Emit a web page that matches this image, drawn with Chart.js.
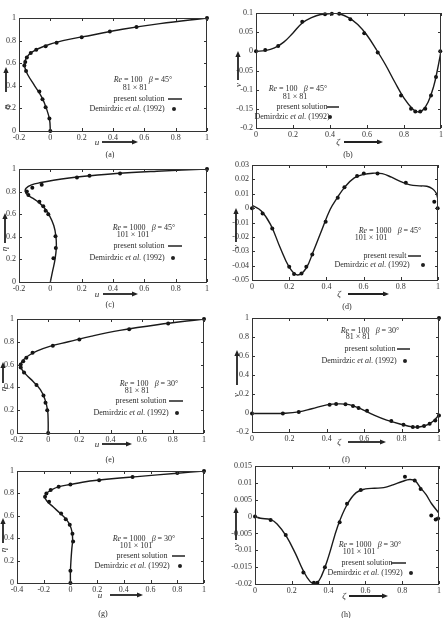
<!DOCTYPE html>
<html lang="en">
<head>
<meta charset="UTF-8">
<title>Skewed cavity: u and v profiles</title>
<script src="https://cdn.jsdelivr.net/npm/chart.js"></script>
<style>
  body { margin: 0; background: #fff; }
  #page { position: relative; width: 443px; height: 618px; overflow: hidden;
          font-family: 'Liberation Serif', 'Times New Roman', serif; color: #2b2b2b; }
  canvas { position: absolute; }
  .txt { position: absolute; font-size: 8px; line-height: 1; white-space: nowrap;
         transform: translate(-50%, -50%); }
  .lab { font-size: 9px; font-style: italic; }
</style>
</head>
<body>
<div id="page"></div>
<script>
// ---------- data ----------
// ticks
const uTicks = [-0.2, 0, 0.2, 0.4, 0.6, 0.8, 1];
const uTicksWide = [-0.4, -0.2, 0, 0.2, 0.4, 0.6, 0.8, 1];
const etaTicks = [0, 0.2, 0.4, 0.6, 0.8, 1];
const zetaTicks = [0, 0.2, 0.4, 0.6, 0.8, 1];
const vTicksB = [-0.2, -0.15, -0.1, -0.05, 0, 0.05, 0.1];
const vTicksD = [-0.05, -0.04, -0.03, -0.02, -0.01, 0, 0.01, 0.02, 0.03];
const vTicksF = [-0.2, 0, 0.2, 0.4, 0.6, 0.8, 1];
const vTicksH = [-0.02, -0.015, -0.01, -0.005, 0, 0.005, 0.01, 0.015];

// (a) Re=100, beta=45, u(eta)
const aLineEta = [0, 0.1, 0.2, 0.3, 0.4, 0.5, 0.56, 0.6, 0.65, 0.7, 0.75, 0.8, 0.85, 0.9, 0.95, 1];
const aLineU = [0, -0.005, -0.025, -0.055, -0.1, -0.145, -0.162, -0.165, -0.152, -0.115, -0.04, 0.08, 0.27, 0.46, 0.7, 1];
const aDotEta = [0, 0.11, 0.21, 0.28, 0.35, 0.53, 0.58, 0.61, 0.65, 0.69, 0.72, 0.75, 0.78, 0.83, 0.88, 0.92, 1];
const aDotU = [0, -0.006, -0.03, -0.05, -0.07, -0.155, -0.166, -0.16, -0.15, -0.125, -0.09, -0.03, 0.04, 0.2, 0.38, 0.55, 1];

// (b) Re=100, beta=45, v(zeta)
const bLineZeta = [0, 0.05, 0.1, 0.15, 0.2, 0.25, 0.3, 0.35, 0.42, 0.45, 0.5, 0.55, 0.6, 0.65, 0.7, 0.75, 0.8, 0.85, 0.875, 0.9, 0.93, 0.96, 0.98, 1];
const bLineV = [0, 0.002, 0.009, 0.024, 0.048, 0.074, 0.088, 0.096, 0.099, 0.098, 0.088, 0.07, 0.042, 0.005, -0.035, -0.08, -0.122, -0.152, -0.158, -0.154, -0.133, -0.092, -0.05, 0];
const bDotZeta = [0, 0.05, 0.12, 0.25, 0.373, 0.41, 0.45, 0.51, 0.585, 0.658, 0.784, 0.838, 0.861, 0.888, 0.915, 0.946, 0.973, 0.996];
const bDotV = [0, 0.0035, 0.014, 0.077, 0.0965, 0.098, 0.098, 0.084, 0.047, -0.003, -0.115, -0.15, -0.157, -0.157, -0.15, -0.115, -0.067, 0];

// (c) Re=1000, beta=45, u(eta)
const cLineEta = [0, 0.1, 0.2, 0.3, 0.4, 0.5, 0.6, 0.65, 0.7, 0.74, 0.77, 0.8, 0.83, 0.86, 0.88, 0.9, 0.92, 0.94, 0.96, 0.98, 1];
const cLineU = [0, 0.015, 0.03, 0.038, 0.036, 0.022, -0.01, -0.035, -0.07, -0.11, -0.145, -0.16, -0.155, -0.12, -0.06, 0.02, 0.12, 0.25, 0.42, 0.68, 1];
const cDotEta = [0.21, 0.3, 0.405, 0.6, 0.63, 0.67, 0.71, 0.77, 0.8, 0.834, 0.86, 0.925, 0.94, 0.96, 1];
const cDotU = [0.02, 0.035, 0.033, -0.013, -0.03, -0.045, -0.07, -0.14, -0.15, -0.115, -0.055, 0.17, 0.25, 0.445, 1];

// (d) Re=1000, beta=45, v(zeta)
const dLineZeta = [0, 0.05, 0.1, 0.15, 0.2, 0.245, 0.29, 0.33, 0.37, 0.42, 0.46, 0.5, 0.55, 0.6, 0.65, 0.7, 0.75, 0.8, 0.85, 0.9, 0.94, 0.97, 0.99, 1];
const dLineV = [0.002, -0.002, -0.0115, -0.027, -0.041, -0.0465, -0.042, -0.03, -0.017, -0.001, 0.0075, 0.0148, 0.021, 0.0235, 0.0243, 0.024, 0.0215, 0.0185, 0.0162, 0.0155, 0.0152, 0.0135, 0.0105, 0.006];
const dDotZeta = [0, 0.057, 0.109, 0.2, 0.226, 0.266, 0.292, 0.324, 0.396, 0.461, 0.497, 0.565, 0.601, 0.675, 0.827, 0.98, 0.998];
const dDotV = [0, -0.0037, -0.0141, -0.0408, -0.0459, -0.0455, -0.0408, -0.0322, -0.0095, 0.0072, 0.0146, 0.0223, 0.0241, 0.0241, 0.0176, 0.0044, 0];

// (e) Re=100, beta=30, u(eta)
const eLineEta = [0, 0.1, 0.2, 0.3, 0.38, 0.45, 0.51, 0.56, 0.6, 0.64, 0.68, 0.72, 0.76, 0.8, 0.85, 0.9, 0.95, 1];
const eLineU = [0, 0, -0.004, -0.022, -0.05, -0.095, -0.14, -0.17, -0.176, -0.16, -0.125, -0.07, 0.01, 0.13, 0.28, 0.46, 0.7, 1];
const eDotEta = [0, 0.2, 0.265, 0.33, 0.42, 0.53, 0.574, 0.6, 0.63, 0.66, 0.705, 0.765, 0.82, 0.91, 0.96, 1];
const eDotU = [0, -0.006, -0.017, -0.03, -0.075, -0.155, -0.176, -0.176, -0.16, -0.14, -0.1, 0.03, 0.2, 0.52, 0.77, 1];

// (f) Re=100, beta=30, v(zeta)
const fLineZeta = [0, 0.1, 0.17, 0.25, 0.32, 0.4, 0.46, 0.52, 0.58, 0.65, 0.72, 0.8, 0.86, 0.9, 0.94, 0.97, 1];
const fLineV = [-0.005, -0.005, -0.003, 0.012, 0.045, 0.085, 0.096, 0.088, 0.045, -0.02, -0.075, -0.12, -0.146, -0.145, -0.122, -0.085, -0.02];
const fDotZeta = [0, 0.165, 0.25, 0.415, 0.45, 0.5, 0.54, 0.57, 0.615, 0.745, 0.81, 0.86, 0.885, 0.92, 0.95, 0.98, 1, 1];
const fDotV = [-0.005, -0.005, 0.01, 0.088, 0.095, 0.092, 0.075, 0.053, 0.025, -0.085, -0.124, -0.148, -0.148, -0.138, -0.113, -0.078, -0.025, 1];

// (g) Re=1000, beta=30, u(eta)
const gLineEta = [0, 0.1, 0.2, 0.3, 0.38, 0.45, 0.52, 0.57, 0.62, 0.68, 0.73, 0.77, 0.8, 0.83, 0.86, 0.88, 0.9, 0.917, 0.95, 0.98, 1];
const gLineU = [0, 0, 0.004, 0.01, 0.016, 0.013, -0.005, -0.033, -0.075, -0.13, -0.175, -0.193, -0.18, -0.145, -0.085, 0, 0.09, 0.2, 0.5, 0.8, 1];
const gDotEta = [0, 0.11, 0.37, 0.44, 0.52, 0.57, 0.62, 0.725, 0.77, 0.8, 0.83, 0.86, 0.88, 0.917, 0.947, 0.982, 1];
const gDotU = [0, 0, 0.02, 0.015, -0.005, -0.035, -0.07, -0.16, -0.19, -0.18, -0.148, -0.088, 0, 0.215, 0.465, 0.8, 1];

// (h) Re=1000, beta=30, v(zeta)
const hLineZeta = [0, 0.03, 0.085, 0.12, 0.17, 0.22, 0.26, 0.3, 0.33, 0.36, 0.4, 0.45, 0.5, 0.55, 0.6, 0.65, 0.7, 0.75, 0.8, 0.84, 0.87, 0.9, 0.93, 0.96, 1];
const hLineV = [0, -0.0005, -0.0009, -0.0022, -0.0058, -0.011, -0.0158, -0.0193, -0.02, -0.0178, -0.0118, -0.0028, 0.0035, 0.0071, 0.0082, 0.0084, 0.0086, 0.0094, 0.0104, 0.011, 0.0106, 0.0085, 0.0065, 0.0038, 0.001];
const hDotZeta = [0, 0.085, 0.167, 0.263, 0.32, 0.339, 0.38, 0.46, 0.5, 0.575, 0.815, 0.868, 0.9, 0.958, 0.982, 0.995];
const hDotV = [0, -0.001, -0.0055, -0.0166, -0.0196, -0.0196, -0.015, -0.0017, 0.0038, 0.0079, 0.0118, 0.0107, 0.0082, 0.0003, -0.0009, -0.0006];

// ---------- layout of the 8 panels (page pixels) ----------
const panels = [
  { id: 'a', box: [19, 207, 18, 131], xs: [-0.2, 1], ys: [0, 1], xt: uTicks, yt: etaTicks,
    line: [aLineU, aLineEta], dots: [aDotU, aDotEta], xl: 'u', yl: 'η',
    yArrow: [6, 92, 67], yLab: [6, 107], xArrow: [142, 102, 138], xLab: [97, 142],
    re: '<i>Re</i> = 100&nbsp;&nbsp; <i>β</i> = 45°', reAt: [143, 80], grid: '81 × 81', gridAt: [135, 88],
    ps: 'present solution', psAt: [139, 99], legLine: [168, 182, 99], dmAt: [127, 109], legDot: [174, 109], cap: [110, 155] },
  { id: 'b', box: [256, 441, 13, 128], xs: [0, 1], ys: [-0.2, 0.1], xt: zetaTicks, yt: vTicksB,
    line: [bLineZeta, bLineV], dots: [bDotZeta, bDotV], xl: 'ζ', yl: 'v',
    yArrow: [238, 80, 51], yLab: [238, 85], xArrow: [142, 344, 383], xLab: [338, 142],
    re: '<i>Re</i> = 100&nbsp;&nbsp; <i>β</i> = 45°', reAt: [298, 89], grid: '81 × 81', gridAt: [295, 97],
    ps: 'present solution', psAt: [302, 107], legLine: [327, 339, 107], dmAt: [292, 117], legDot: [330, 117], cap: [348, 155] },
  { id: 'c', box: [19, 207, 169, 282], xs: [-0.2, 1], ys: [0, 1], xt: uTicks, yt: etaTicks,
    line: [cLineU, cLineEta], dots: [cDotU, cDotEta], xl: 'u', yl: 'η',
    yArrow: [5, 243, 213], yLab: [4, 249], xArrow: [294, 103, 138], xLab: [97, 294],
    re: '<i>Re</i> = 1000&nbsp;&nbsp; <i>β</i> = 45°', reAt: [144, 228], grid: '101 × 101', gridAt: [133, 235],
    ps: 'present solution', psAt: [139, 246], legLine: [168, 182, 246], dmAt: [127, 258], legDot: [173, 258], cap: [110, 305] },
  { id: 'd', box: [252, 438, 165, 280], xs: [0, 1], ys: [-0.05, 0.03], xt: zetaTicks, yt: vTicksD,
    line: [dLineZeta, dLineV], dots: [dDotZeta, dDotV], xl: 'ζ', yl: 'v',
    yArrow: [236, 242, 208], yLab: [236, 247], xArrow: [294, 348, 389], xLab: [339, 294],
    re: '<i>Re</i> = 1000&nbsp;&nbsp; <i>β</i> = 45°', reAt: [390, 231], grid: '101 × 101', gridAt: [371, 238],
    ps: 'present result', psAt: [385, 256], legLine: [408, 421, 256], dmAt: [372, 265], legDot: [423, 265], cap: [347, 307] },
  { id: 'e', box: [17, 204, 319, 433], xs: [-0.2, 1], ys: [0, 1], xt: uTicks, yt: etaTicks,
    line: [eLineU, eLineEta], dots: [eDotU, eDotEta], xl: 'u', yl: 'η',
    yArrow: [3, 383, 362], yLab: [3, 389], xArrow: [444, 102, 132], xLab: [97, 444],
    re: '<i>Re</i> = 100&nbsp;&nbsp; <i>β</i> = 30°', reAt: [149, 384], grid: '81 × 81', gridAt: [137, 391],
    ps: 'present solution', psAt: [141, 401], legLine: [169, 183, 401], dmAt: [131, 413], legDot: [177, 413], cap: [110, 460] },
  { id: 'f', box: [252, 439, 318, 432], xs: [0, 1], ys: [-0.2, 1], xt: zetaTicks, yt: vTicksF,
    line: [fLineZeta, fLineV], dots: [fDotZeta, fDotV], xl: 'ζ', yl: 'v',
    yArrow: [237, 385, 350], yLab: [236, 395], xArrow: [442, 348, 386], xLab: [339, 442],
    re: '<i>Re</i> = 100&nbsp;&nbsp; <i>β</i> = 30°', reAt: [370, 331], grid: '81 × 81', gridAt: [358, 337],
    ps: 'present solution', psAt: [370, 349], legLine: [397, 410, 349], dmAt: [359, 361], legDot: [405, 361], cap: [346, 460] },
  { id: 'g', box: [17, 204, 471, 583], xs: [-0.4, 1], ys: [0, 1], xt: uTicksWide, yt: etaTicks,
    line: [gLineU, gLineEta], dots: [gDotU, gDotEta], xl: 'u', yl: 'η',
    yArrow: [3, 543, 518], yLab: [3, 550], xArrow: [595, 110, 143], xLab: [100, 595],
    re: '<i>Re</i> = 1000&nbsp;&nbsp; <i>β</i> = 30°', reAt: [144, 539], grid: '101 × 101', gridAt: [136, 546],
    ps: 'present solution', psAt: [142, 556], legLine: [172, 185, 556], dmAt: [132, 566], legDot: [180, 566], cap: [103, 614] },
  { id: 'h', box: [255, 439, 466, 584], xs: [0, 1], ys: [-0.02, 0.015], xt: zetaTicks, yt: vTicksH,
    line: [hLineZeta, hLineV], dots: [hDotZeta, hDotV], xl: 'ζ', yl: 'v',
    yArrow: [236, 540, 507], yLab: [236, 545], xArrow: [596, 349, 388], xLab: [344, 596],
    re: '<i>Re</i> = 1000&nbsp;&nbsp; <i>β</i> = 30°', reAt: [370, 545], grid: '101 × 101', gridAt: [359, 552],
    ps: 'present solution', psAt: [367, 563], legLine: [391, 406, 563], dmAt: [365, 573], legDot: [411, 573], cap: [346, 615] }
];

const page = document.getElementById('page');
const ink = '#222';
const tickFont = { family: "'Liberation Serif', 'Times New Roman', serif", size: 8 };

function zip(xs, ys) { return xs.map((x, i) => ({ x: x, y: ys[i] })); }

function addText(x, y, html, cls, rotate) {
  const d = document.createElement('div');
  d.className = 'txt' + (cls ? ' ' + cls : '');
  d.innerHTML = html;
  d.style.left = x + 'px';
  d.style.top = y + 'px';
  if (rotate) d.style.transform = 'translate(-50%, -50%) rotate(-90deg)';
  page.appendChild(d);
}

function arrow(ctx, x0, y0, x1, y1) {
  const ang = Math.atan2(y1 - y0, x1 - x0), L = 6, W = 2.6;
  ctx.beginPath();
  ctx.moveTo(x0, y0);
  ctx.lineTo(x1 - L * Math.cos(ang), y1 - L * Math.sin(ang));
  ctx.lineWidth = 1.8;
  ctx.stroke();
  ctx.beginPath();
  ctx.moveTo(x1, y1);
  ctx.lineTo(x1 - L * Math.cos(ang) - W * Math.sin(ang), y1 - L * Math.sin(ang) + W * Math.cos(ang));
  ctx.lineTo(x1 - L * Math.cos(ang) + W * Math.sin(ang), y1 - L * Math.sin(ang) - W * Math.cos(ang));
  ctx.closePath();
  ctx.fill();
}

// frame, inward ticks, axis arrows, legend samples
function framePlugin(p, cl, ct) {
  return {
    id: 'frame' + p.id,
    afterDraw(chart) {
      const ctx = chart.ctx, a = chart.chartArea;
      const sx = chart.scales.x, sy = chart.scales.y;
      ctx.save();
      ctx.strokeStyle = '#333';
      ctx.fillStyle = ink;
      ctx.lineWidth = 1;
      ctx.strokeRect(a.left + 0.5, a.top + 0.5, a.right - a.left - 1, a.bottom - a.top);
      ctx.beginPath();
      p.xt.forEach(v => {
        const px = Math.round(sx.getPixelForValue(v)) + 0.5;
        ctx.moveTo(px, a.bottom); ctx.lineTo(px, a.bottom - 3);
        ctx.moveTo(px, a.top); ctx.lineTo(px, a.top + 3);
      });
      p.yt.forEach(v => {
        const py = Math.round(sy.getPixelForValue(v)) + 0.5;
        ctx.moveTo(a.left, py); ctx.lineTo(a.left + 3, py);
        ctx.moveTo(a.right, py); ctx.lineTo(a.right - 3, py);
      });
      ctx.stroke();

      ctx.strokeStyle = ink;
      arrow(ctx, p.yArrow[0] - cl, p.yArrow[1] - ct, p.yArrow[0] - cl, p.yArrow[2] - ct);
      arrow(ctx, p.xArrow[1] - cl, p.xArrow[0] - ct, p.xArrow[2] - cl, p.xArrow[0] - ct);

      ctx.lineWidth = 1.5;
      ctx.beginPath();
      ctx.moveTo(p.legLine[0] - cl, p.legLine[2] - ct);
      ctx.lineTo(p.legLine[1] - cl, p.legLine[2] - ct);
      ctx.stroke();
      ctx.beginPath();
      ctx.arc(p.legDot[0] - cl, p.legDot[1] - ct, 2, 0, Math.PI * 2);
      ctx.fill();
      ctx.restore();
    }
  };
}

function axis(range, ticks, isX, size) {
  return {
    type: 'linear',
    min: range[0],
    max: range[1],
    grid: { display: false, drawTicks: false },
    border: { display: false },
    afterBuildTicks: s => { s.ticks = ticks.map(v => ({ value: v })); },
    afterFit: s => { if (isX) s.height = size; else s.width = size; },
    ticks: {
      color: '#333',
      font: tickFont,
      padding: isX ? 2 : 3,
      autoSkip: false,
      maxRotation: 0,
      callback: v => String(v)
    }
  };
}

panels.forEach(p => {
  const left = p.box[0] < 221;
  const cl = left ? 0 : 221;
  const cw = left ? 221 : 232;
  const ct = p.box[2] - 10;
  const ch = p.box[3] - p.box[2] + 26;
  const cv = document.createElement('canvas');
  cv.width = cw;
  cv.height = ch;
  cv.style.left = cl + 'px';
  cv.style.top = ct + 'px';
  page.appendChild(cv);

  new Chart(cv, {
    type: 'scatter',
    data: {
      datasets: [
        { data: zip(p.line[0], p.line[1]), showLine: true, pointRadius: 0, borderColor: '#1a1a1a',
          borderWidth: 1.4, tension: 0.4 },
        { data: zip(p.dots[0], p.dots[1]), pointRadius: 2, backgroundColor: '#111', borderWidth: 0, clip: false }
      ]
    },
    options: {
      responsive: false,
      animation: false,
      events: [],
      layout: { padding: { top: 10, right: cl + cw - p.box[1], left: 0, bottom: 0 } },
      plugins: { legend: { display: false }, tooltip: { enabled: false } },
      scales: {
        x: axis(p.xs, p.xt, true, 16),
        y: axis(p.ys, p.yt, false, p.box[0] - cl)
      }
    },
    plugins: [framePlugin(p, cl, ct)]
  });

  addText(p.reAt[0], p.reAt[1], p.re);
  addText(p.gridAt[0], p.gridAt[1], p.grid);
  addText(p.psAt[0], p.psAt[1], p.ps);
  addText(p.dmAt[0], p.dmAt[1], 'Demirdzic <i>et al.</i> (1992)');
  addText(p.xLab[0], p.xLab[1], p.xl, 'lab');
  addText(p.yLab[0], p.yLab[1], p.yl, 'lab', true);
  addText(p.cap[0], p.cap[1], '(' + p.id + ')');
});
</script>
</body>
</html>
